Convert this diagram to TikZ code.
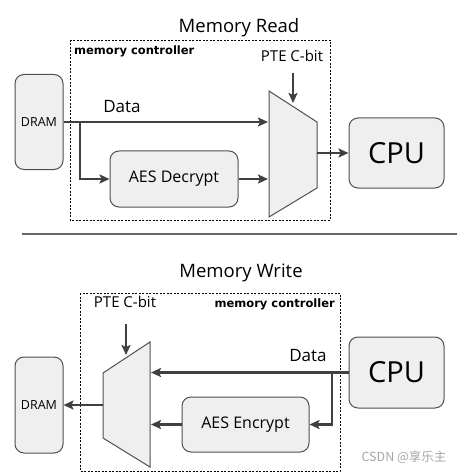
\documentclass[tikz,border=0pt]{standalone}
\usepackage{fontspec}
\setmainfont{Open Sans}
\newfontfamily\mcfont{DejaVu Sans}
\newfontfamily\cjkfont{Noto Sans CJK SC}
\usetikzlibrary{arrows.meta}
\definecolor{boxfill}{HTML}{EFEFEF}
\definecolor{boxline}{HTML}{505050}
\definecolor{arrcol}{HTML}{404040}
\tikzset{
  unitbox/.style={draw=boxline, line width=1pt, fill=boxfill, rounded corners=9pt, inner sep=0pt, align=center},
  arr/.style={draw=arrcol, line width=2.7pt, -{Stealth[length=10pt,width=9pt,inset=2pt]}},
  muxshape/.style={draw=boxline, line width=1pt, fill=boxfill},
  mcbox/.style={draw=black, line width=0.7pt, dash pattern=on 2pt off 1.5pt},
  title/.style={font=\fontsize{18.5}{20}\selectfont, inner sep=0pt, anchor=base},
  lbl/.style={font=\fontsize{15}{17}\selectfont, inner sep=0pt, anchor=base},
  datalbl/.style={font=\fontsize{17}{19}\selectfont, inner sep=0pt, anchor=base},
  mclbl/.style={font=\mcfont\bfseries\fontsize{11.5}{13}\selectfont, inner sep=0pt},
}
\begin{document}
\begin{tikzpicture}[x=1pt,y=-1pt]
\useasboundingbox (0,0) rectangle (469,473);
% ---------- Memory Read ----------
\node[title] (title1) at (239,33) {Memory Read};
\draw[mcbox] (70,40) rectangle (330,220);
\node[mclbl, anchor=base west] (mc1) at (74,55) {memory controller};
\node[lbl] (pte1) at (292,62) {PTE C-bit};
\node[unitbox, minimum width=48pt, minimum height=95pt, font=\fontsize{12.5}{14}\selectfont] (dram1) at (39,122) {DRAM};
\node[unitbox, minimum width=95pt, minimum height=70pt, font=\fontsize{29}{31}\selectfont] (cpu1) at (396.5,153) {CPU};
\node[unitbox, minimum width=128pt, minimum height=56pt, font=\fontsize{16}{18}\selectfont] (aes1) at (174,179) {AES Decrypt};
\draw[muxshape] (269,91) -- (317,122) -- (317,188) -- (269,217) -- cycle;
\coordinate (m1in1) at (268,122);
\coordinate (m1in2) at (268,179);
\coordinate (m1out) at (317,153);
\coordinate (br1) at (80,122);
\coordinate (p1s) at (293,73);
\coordinate (p1e) at (293,103);
\draw[arr] (dram1.east |- m1in1) -- (m1in1);
\draw[arr] (br1) |- (aes1.west);
\draw[arr] (aes1.east) -- (m1in2);
\draw[arr] (p1s) -- (p1e);
\draw[arr] (m1out) -- (cpu1.west);
\node[datalbl] (data1) at (122,113) {Data};
% ---------- separator ----------
\coordinate (sepL) at (22,234);
\coordinate (sepR) at (457,234);
\draw[draw=gray!80!black, line width=1.5pt] (sepL) -- (sepR);
% ---------- Memory Write ----------
\node[title] (title2) at (241,277) {Memory Write};
\draw[mcbox] (80,293) rectangle (340,471);
\node[lbl] (pte2) at (125,307) {PTE C-bit};
\node[mclbl, anchor=base east] (mc2) at (335,307) {memory controller};
\node[unitbox, minimum width=48pt, minimum height=96pt, font=\fontsize{12.5}{14}\selectfont] (dram2) at (39,405) {DRAM};
\node[unitbox, minimum width=95pt, minimum height=71pt, font=\fontsize{29}{31}\selectfont] (cpu2) at (396.5,372.5) {CPU};
\node[unitbox, minimum width=127pt, minimum height=55pt, font=\fontsize{16}{18}\selectfont] (aes2) at (245.5,424.5) {AES Encrypt};
\draw[muxshape] (150,342) -- (150,467) -- (103,438) -- (103,373) -- cycle;
\coordinate (m2in1) at (151,372.5);
\coordinate (m2in2) at (151,424.5);
\coordinate (m2out) at (103,405);
\coordinate (br2) at (332,372.5);
\coordinate (p2s) at (126,324);
\coordinate (p2e) at (126,355);
\draw[arr] (cpu2.west) -- (m2in1);
\draw[arr] (br2) |- (aes2.east);
\draw[arr] (aes2.west) -- (m2in2);
\draw[arr] (p2s) -- (p2e);
\draw[arr] (m2out) -- (dram2.east);
\node[datalbl] (data2) at (308,361) {Data};
% watermark
\node[font=\cjkfont\fontsize{12.5}{14}\selectfont, text=gray!70, inner sep=0pt] (wm) at (404,457) {CSDN @享乐主};
\end{tikzpicture}
\end{document}
